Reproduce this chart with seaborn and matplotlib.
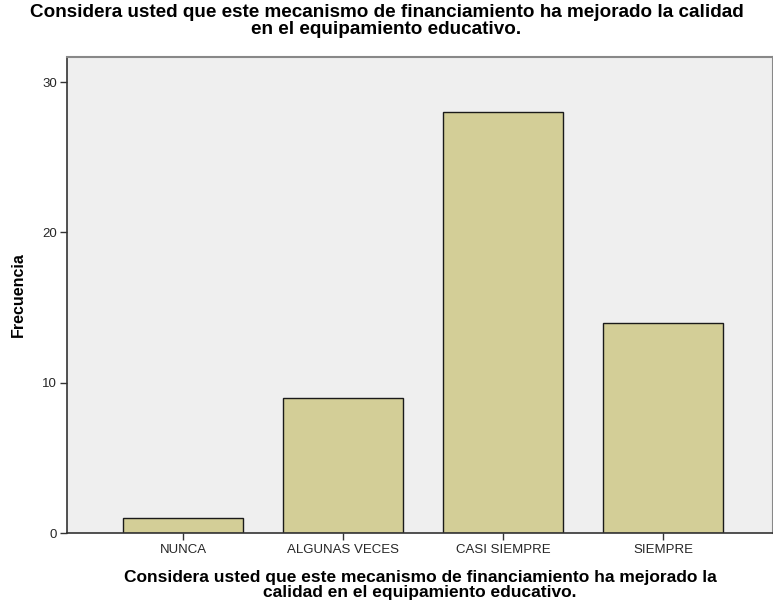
import matplotlib
matplotlib.use("Agg")
import matplotlib.pyplot as plt
import seaborn as sns
import pandas as pd

categories = ["NUNCA", "ALGUNAS VECES", "CASI SIEMPRE", "SIEMPRE"]
frecuencia = [1, 9, 28, 14]
yticks = [0, 10, 20, 30]

sns.set_theme(style="white")
plt.rcParams['font.family'] = ['Liberation Sans', 'DejaVu Sans']

df = pd.DataFrame({"cat": categories, "freq": frecuencia})

fig = plt.figure(figsize=(7.73, 6.09), dpi=100)
ax = fig.add_axes([67/773, 76/609, 1 - 67/773, (533-57)/609])
ax.set_facecolor("#EFEFEF")

sns.barplot(data=df, x="cat", y="freq", color="#D3CE97", width=0.75,
            edgecolor="#1a1a1a", linewidth=1.0, saturation=1, ax=ax)

ax.set_xlim(-0.725, 3.6875)
ax.set_ylim(0, 31.67)
ax.set_yticks(yticks)
ax.set_yticklabels([str(v) for v in yticks], fontsize=9.5)
ax.tick_params(axis="x", labelsize=9.5, length=5, width=1, color="#333333", direction="out", bottom=True, pad=3)
ax.tick_params(axis="y", length=5, width=1, color="#333333", direction="out", left=True, pad=2)

for s in ["top", "right"]:
    ax.spines[s].set_color("#888888")
    ax.spines[s].set_linewidth(1.5)
for s in ["left", "bottom"]:
    ax.spines[s].set_color("#333333")
    ax.spines[s].set_linewidth(1.2)

ax.set_xlabel("Considera usted que este mecanismo de financiamiento ha mejorado la\ncalidad en el equipamiento educativo.",
              fontsize=12.5, fontweight="bold", labelpad=10, linespacing=0.98, color="black")
ax.set_ylabel("Frecuencia", fontsize=11.5, fontweight="bold", labelpad=12, color="black")

fig.text(0.5, 0.993, "Considera usted que este mecanismo de financiamiento ha mejorado la calidad\nen el equipamiento educativo.",
         ha="center", va="top", fontsize=13.6, fontweight="bold", linespacing=0.95, color="black")

fig.savefig("out.png", dpi=100, facecolor="white")
